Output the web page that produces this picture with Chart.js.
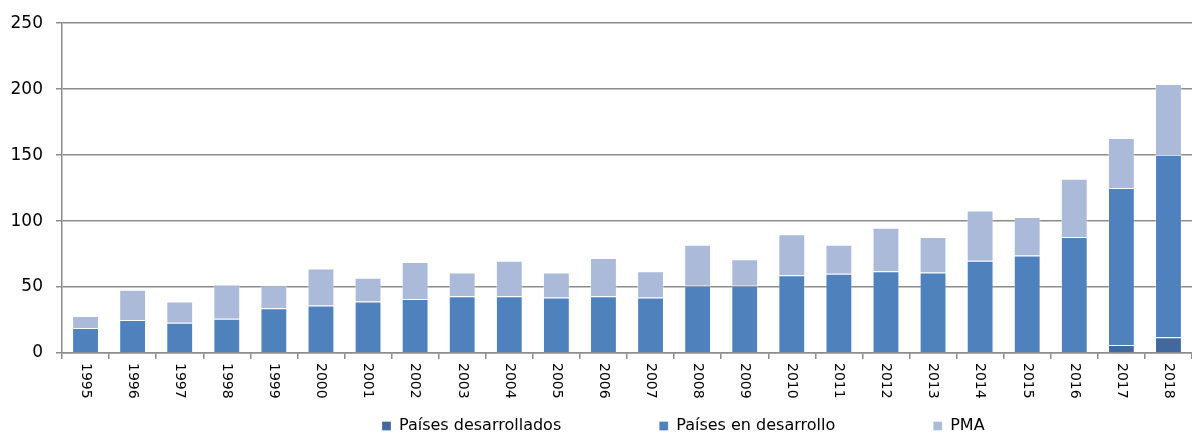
<!DOCTYPE html>
<html>
<head>
<meta charset="utf-8">
<script src="https://cdn.jsdelivr.net/npm/chart.js@4/dist/chart.umd.min.js"></script>
<style>
  html, body { margin: 0; padding: 0; background: #fff; }
  #wrap { width: 1192px; height: 434px; position: relative; }
</style>
</head>
<body>
<div id="wrap"><canvas id="chart"></canvas></div>
<script>
const years = ['1995','1996','1997','1998','1999','2000','2001','2002','2003','2004','2005','2006',
  '2007','2008','2009','2010','2011','2012','2013','2014','2015','2016','2017','2018'];
// Países desarrollados
const desarrollados = [0,0,0,0,0,0,0,0,0,0,0,0,0,0,0,0,0,0,0,0,0,0,6,12];
// Países en desarrollo (stacked above desarrollados)
const enDesarrollo = [19,25,23,26,34,36,39,41,43,43,42,43,42,51,51,59,60,62,61,70,74,88,119,138];
// PMA
const pma = [9,23,16,26,17,28,18,28,18,27,19,29,20,31,20,31,22,33,27,38,29,44,38,54];
const yTicks = [0,50,100,150,200,250];

const FONT = '"DejaVu Sans", Verdana, sans-serif';
const LEGEND_H = 34;      // height reserved for the legend row
const LEGEND_SHIFT = 275; // legend is not centred in the original

// x labels in the reference read top-to-bottom, so draw them ourselves
const verticalLabels = {
  id: 'verticalLabels',
  afterDraw(chart) {
    const x = chart.scales.x;
    const ctx = chart.ctx;
    ctx.save();
    ctx.font = '14px ' + FONT;
    ctx.fillStyle = '#000';
    ctx.textAlign = 'left';
    ctx.textBaseline = 'middle';
    years.forEach((y, i) => {
      const px = x.getPixelForValue(i);
      ctx.save();
      ctx.translate(px, x.top + 10);
      ctx.rotate(Math.PI / 2);
      ctx.fillText(y, 0, 0);
      ctx.restore();
    });
    ctx.restore();
  }
};

// big horizontal gaps between legend items without a tall legend box
const legendFix = {
  id: 'legendFix',
  afterInit(chart) {
    const lg = chart.legend;
    const fit = lg.fit;
    lg.fit = function () { fit.call(this); this.height = LEGEND_H; };
    const draw = lg.draw;
    lg.draw = function () {
      const pad = this.options.labels.padding;
      const t = this.top, l = this.left;
      this.top = this.bottom - 16 - pad;
      this.left = l + LEGEND_SHIFT;
      draw.call(this);
      this.top = t; this.left = l;
    };
  }
};

const ctx = document.getElementById('chart').getContext('2d');
new Chart(ctx, {
  type: 'bar',
  data: {
    labels: years,
    datasets: [
      { label: 'Países desarrollados', data: desarrollados, backgroundColor: '#41699e',
        borderColor: 'rgba(255,255,255,0.3)', borderWidth: 1 },
      { label: 'Países en desarrollo', data: enDesarrollo, backgroundColor: '#4f81bd',
        borderColor: 'rgba(255,255,255,0.3)', borderWidth: 1 },
      { label: 'PMA', data: pma, backgroundColor: '#aabad8',
        borderColor: 'rgba(255,255,255,0.4)', borderWidth: 1 }
    ]
  },
  options: {
    responsive: true,
    maintainAspectRatio: false,
    animation: false,
    layout: { padding: { top: 13, left: 9, right: 0, bottom: 0 } },
    datasets: { bar: { categoryPercentage: 1, barPercentage: 0.57 } },
    plugins: {
      tooltip: { enabled: false },
      legend: {
        position: 'bottom',
        align: 'start',
        labels: {
          font: { family: FONT, size: 16 },
          color: '#000',
          boxWidth: 9,
          boxHeight: 9,
          padding: 98
        }
      }
    },
    scales: {
      x: {
        stacked: true,
        afterFit(axis) { axis.height = 47; },
        border: { color: '#8c8c8c', width: 1.5 },
        grid: { offset: true, drawOnChartArea: false, color: '#8c8c8c', tickLength: 6, lineWidth: 1.5 },
        ticks: { color: 'rgba(0,0,0,0)', font: { family: FONT, size: 14 }, minRotation: 90, maxRotation: 90, padding: 4 }
      },
      y: {
        stacked: true,
        min: 0,
        max: 250,
        afterBuildTicks(axis) { axis.ticks = yTicks.map(v => ({ value: v })); },
        afterFit(axis) { axis.width = 53; },
        border: { color: '#8c8c8c', width: 1.5 },
        grid: { color: '#8c8c8c', lineWidth: 1.5, tickLength: 6 },
        ticks: { color: '#000', font: { family: FONT, size: 17 }, padding: 13 }
      }
    }
  },
  plugins: [verticalLabels, legendFix]
});
</script>
</body>
</html>
